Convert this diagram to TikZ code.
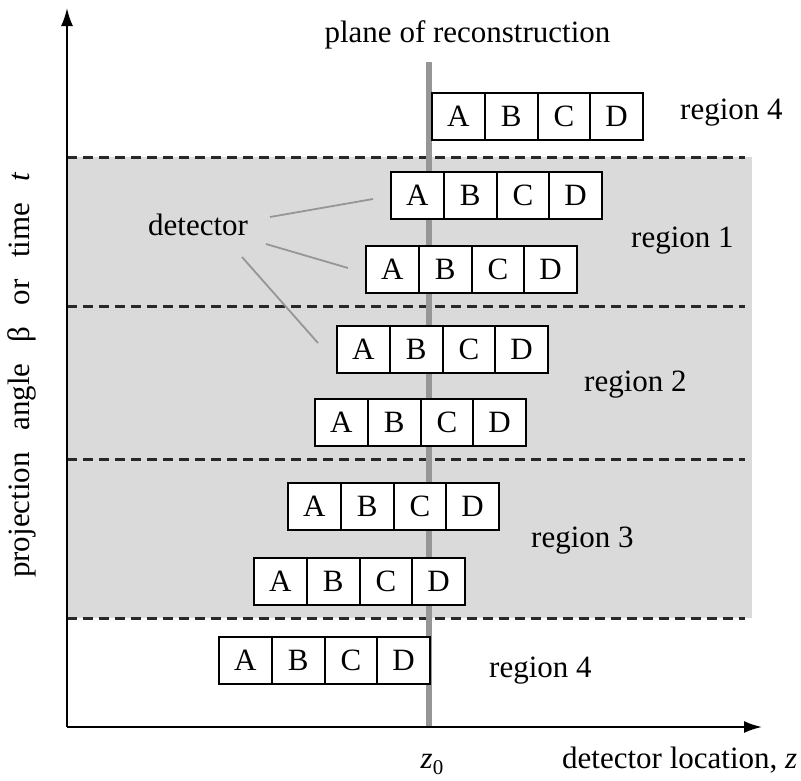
\documentclass[tikz,border=0pt]{standalone}
\usepackage{fontspec}
\setmainfont{Liberation Serif}
\usetikzlibrary{arrows.meta}
\definecolor{bandc}{RGB}{218,218,218}
\definecolor{planec}{RGB}{150,150,150}
\definecolor{dashc}{RGB}{40,40,40}
\newcommand\detrow[3]{%
  \foreach \l [count=\i] in {A,B,C,D} {%
    \node[cell] (#1\l) at ({#2+(\i-0.5)*52.75},#3) {\l};}}
\begin{document}
\begin{tikzpicture}[x=1pt,y=-1pt,
  every node/.style={font=\fontsize{31}{37}\selectfont},
  cell/.style={draw=black,fill=white,line width=2pt,minimum width=52.75pt,minimum height=47pt,inner sep=0pt},
  sep/.style={draw=dashc,line width=3pt,dash pattern=on 10pt off 6pt},
  axis/.style={draw=black,line width=2pt,-{Latex[length=18pt,width=12pt]}},
  leader/.style={draw=planec,line width=1.8pt},
  lab/.style={anchor=base west,inner sep=0pt}]
\useasboundingbox (0,0) rectangle (801,780);
% shaded band
\fill[bandc] (67,157) rectangle (752,618);
% region separators
\foreach \y in {157,306,459,618} \draw[sep] (67,\y) -- (745,\y);
% plane of reconstruction
\coordinate (ptop) at (429,62);
\coordinate (pbot) at (429,727);
\draw[planec,line width=6pt] (ptop) -- (pbot);
% axes
\coordinate (o) at (67,727);
\coordinate (ytip) at (67,8);
\coordinate (xtip) at (762,727);
\draw[axis] (o) -- (ytip);
\draw[axis] (o) -- (xtip);
% detector rows
\detrow{ra}{432}{116.5}
\detrow{rb}{391}{195.5}
\detrow{rc}{366}{269.5}
\detrow{rd}{337}{349}
\detrow{re}{315}{422.5}
\detrow{rf}{288}{506.5}
\detrow{rg}{254}{581}
\detrow{rh}{219}{660.5}
% labels
\node[anchor=base,inner sep=0pt] (title) at (467.5,42) {plane of reconstruction};
\node[lab] (reg4a) at (680,119) {region 4};
\node[lab] (reg1) at (631,247) {region 1};
\node[lab] (reg2) at (584,391) {region 2};
\node[lab] (reg3) at (531,547) {region 3};
\node[lab] (reg4b) at (489,677) {region 4};
\node[lab] (det) at (148,235) {detector};
\node[anchor=base,inner sep=0pt] (z0) at (432,768) {\textit{z}\raisebox{-6pt}{\fontsize{21}{21}\selectfont 0}};
\node[lab] (xlab) at (562,768) {detector location, \textit{z}};
\node[rotate=90,inner sep=0pt] (ylab) at (22,375) {projection\hspace{0.69em}angle\hspace{0.69em}β\hspace{0.69em}or\hspace{0.69em}time\hspace{0.69em}\textit{t}};
% leader lines
\coordinate (l1s) at (270,217);
\coordinate (l1e) at (373,199);
\coordinate (l2s) at (266,244);
\coordinate (l2e) at (348,268);
\coordinate (l3s) at (242,257);
\coordinate (l3e) at (318,343);
\draw[leader] (l1s) -- (l1e);
\draw[leader] (l2s) -- (l2e);
\draw[leader] (l3s) -- (l3e);
\end{tikzpicture}
\end{document}
